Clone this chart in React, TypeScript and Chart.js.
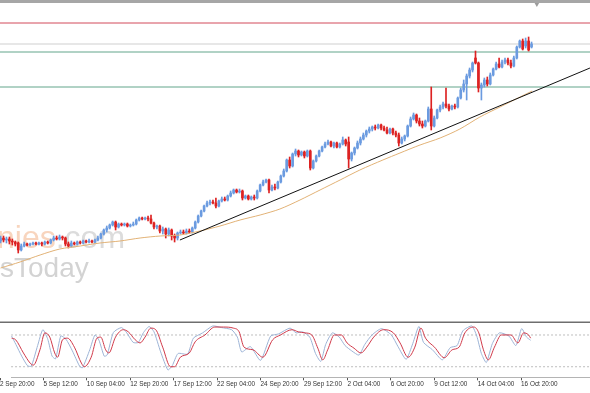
import { useEffect, useRef } from "react";
import { Chart, registerables } from "chart.js";

Chart.register(...registerables);

// ---- Candles (price units) ----
const OPEN = [
  1079,1082,1080,1081,1079,1078,1077,1070,1074,1076,
  1075,1076,1077,1076,1077,1076,1078,1077,1080,1082,
  1081,1083,1082,1076,1074,1077,1076,1078,1077,1079,
  1078,1079,1078,1080,1082,1086,1090,1092,1095,1098,
  1093,1096,1095,1096,1094,1095,1096,1100,1102,1101,
  1102,1101,1097,1093,1094,1089,1091,1086,1090,1084,
  1082,1087,1088,1087,1089,1088,1092,1098,1104,1109,
  1114,1117,1118,1117,1114,1119,1121,1120,1124,1127,
  1130,1128,1129,1122,1124,1121,1123,1122,1129,1135,
  1138,1140,1130,1133,1132,1138,1144,1149,1160,1154,
  1166,1169,1165,1168,1164,1169,1152,1159,1164,1169,
  1173,1176,1178,1174,1177,1173,1176,1180,1178,1161,
  1167,1172,1177,1181,1185,1189,1191,1193,1192,1195,
  1192,1190,1187,1191,1187,1185,1177,1181,1184,1194,
  1201,1205,1199,1196,1194,1199,1211,1194,1202,1210,
  1213,1216,1214,1211,1214,1213,1222,1230,1236,1244,
  1250,1262,1257,1232,1235,1240,1236,1245,1251,1256,
  1253,1258,1260,1257,1254,1262,1273,1279,1274,1279,1273,
];
const CLOSE = [
  1082,1080,1081,1079,1078,1076,1070,1074,1076,1075,
  1076,1077,1076,1077,1076,1078,1077,1080,1082,1081,
  1083,1082,1076,1074,1077,1076,1078,1077,1079,1078,
  1079,1078,1080,1082,1086,1090,1092,1095,1098,1093,
  1096,1095,1096,1094,1095,1096,1100,1102,1101,1102,
  1101,1097,1093,1094,1089,1091,1086,1090,1084,1082,
  1087,1088,1087,1089,1088,1092,1098,1104,1109,1114,
  1117,1118,1117,1114,1119,1121,1120,1124,1127,1130,
  1128,1129,1122,1124,1121,1123,1122,1129,1135,1138,
  1140,1130,1133,1132,1138,1144,1149,1160,1154,1166,
  1169,1165,1168,1164,1169,1152,1159,1164,1169,1173,
  1176,1178,1174,1177,1173,1176,1180,1176,1161,1167,
  1172,1177,1181,1185,1189,1191,1193,1192,1195,1192,
  1190,1187,1191,1187,1185,1177,1181,1184,1194,1201,
  1205,1199,1196,1194,1199,1211,1194,1202,1210,1213,
  1216,1214,1211,1214,1213,1222,1230,1236,1244,1250,
  1257,1257,1232,1235,1240,1236,1245,1251,1256,1253,
  1258,1260,1257,1254,1262,1273,1279,1271,1279,1270,1276,
];
const HIGH = [
  1084,1084,1083,1083,1081,1079,1078,1076,1078,1077,
  1077,1078,1078,1078,1078,1079,1079,1081,1084,1084,
  1085,1084,1083,1078,1079,1078,1079,1079,1080,1080,
  1081,1080,1081,1084,1087,1091,1094,1096,1099,1099,
  1097,1097,1097,1097,1096,1098,1101,1103,1103,1103,
  1104,1105,1098,1095,1095,1093,1092,1092,1091,1086,
  1088,1090,1090,1091,1091,1093,1099,1105,1110,1115,
  1119,1120,1120,1122,1120,1123,1123,1125,1129,1131,
  1131,1131,1130,1125,1125,1124,1125,1130,1136,1140,
  1141,1141,1135,1136,1139,1145,1151,1161,1163,1167,
  1171,1170,1169,1169,1170,1170,1160,1165,1170,1174,
  1178,1180,1179,1178,1178,1177,1183,1181,1183,1168,
  1173,1179,1183,1187,1190,1193,1194,1195,1196,1196,
  1194,1193,1192,1192,1189,1187,1183,1185,1195,1203,
  1207,1206,1202,1199,1200,1213,1233,1204,1211,1215,
  1218,1232,1216,1215,1216,1223,1232,1240,1246,1252,
  1258,1269,1258,1237,1242,1243,1247,1252,1258,1262,
  1260,1262,1262,1260,1264,1274,1280,1281,1282,1283,1278,
];
const LOW = [
  1077,1078,1077,1076,1075,1074,1067,1069,1073,1074,
  1074,1075,1075,1075,1074,1075,1076,1076,1079,1080,
  1080,1080,1074,1072,1073,1075,1075,1076,1076,1077,
  1077,1077,1077,1079,1081,1085,1088,1091,1094,1090,
  1092,1094,1094,1093,1093,1094,1095,1099,1100,1100,
  1099,1096,1091,1091,1087,1086,1082,1084,1080,1078,
  1080,1086,1086,1086,1087,1087,1091,1097,1103,1108,
  1113,1115,1116,1112,1113,1118,1119,1119,1123,1126,
  1127,1127,1120,1121,1120,1120,1120,1121,1128,1134,
  1137,1127,1129,1130,1131,1137,1143,1148,1152,1153,
  1164,1163,1164,1162,1163,1150,1151,1158,1163,1168,
  1172,1175,1173,1172,1172,1172,1175,1174,1152,1159,
  1165,1171,1175,1180,1183,1187,1189,1190,1191,1190,
  1189,1186,1186,1185,1183,1174,1176,1179,1183,1193,
  1200,1197,1194,1192,1193,1198,1190,1193,1201,1208,
  1211,1212,1209,1210,1211,1212,1221,1228,1220,1242,
  1248,1256,1228,1220,1233,1234,1235,1244,1250,1252,
  1252,1256,1255,1252,1253,1261,1272,1270,1272,1269,1272,
];

// ---- Moving average (sampled along the bars) ----
const MA_IDX = [0, 6.6, 13.4, 20.1, 27, 33.7, 40.5, 47.3, 54.1, 60.8, 67.6, 74.4, 81.2, 88, 94.7, 101.5, 108.3, 115.1, 121.8, 129.6, 135.4, 142.2, 149, 155.7, 162.5, 169.3, 176.1, 180.2];
const MA_VAL = [1052, 1058, 1065, 1071, 1074, 1077, 1079, 1082, 1084, 1085, 1089, 1094, 1100, 1105, 1111, 1120, 1130, 1140, 1150, 1160, 1167, 1175, 1182, 1191, 1203, 1213, 1223, 1229];

// ---- Trend line ----
const TREND_IDX = [60.8, 199.8];
const TREND_VAL = [1080, 1252];

// ---- Horizontal levels ----
const LEVELS = [1297, 1276, 1268, 1233];
const LEVEL_COLORS = ["#d24a5a", "#cfcfcf", "#63a58b", "#63a58b"];

// ---- Stochastic ----
const D_IDX = [0,1.4,4.1,6.4,7.5,9.8,11.5,13.2,14.9,15.9,17.6,19.3,21.7,24.1,25.1,27.5,29.5,30.8,32.5,33.6,35.9,38.6,40.3,42.7,44.4,46.1,48.1,49.8,52.2,54.9,56.3,58.3,61.4,63.4,66.8,70.2,73.2,76.6,78.6,80.3,83.4,86.8,90.2,92.9,96.9,99,101.4,103.7,105.8,107.5,109.2,111.5,113.9,115.9,118.3,120.7,122.7,125.1,128.5,131.9,134.2,137,139.3,141.4,143,146.1,149.5,152.2,154.6,156.6,159.7,161.4,163,164.7,166.8,169.2,172.5,174.9,176.9,178.6,179.3];
const D_VAL = [74,71,46,27,23,52,84,76,46,38,71,74,57,27,20,38,74,76,52,46,76,90,86,71,65,76,93,90,57,20,20,38,46,67,80,95,95,93,86,57,52,38,71,80,90,86,84,80,55,33,52,80,80,65,55,46,57,76,90,84,65,38,57,93,74,57,37,52,57,84,95,84,52,33,57,80,80,65,84,80,74];
const K_IDX = [0,1.5,3.5,5.5,6.8,9,10.8,12.5,14,15.2,17,18.8,21,23.5,24.5,27,28.8,30.2,32,33,35.2,38,39.8,42,43.8,45.5,47.5,49.2,51.5,54,55.5,57.5,60.8,62.8,66,69.5,72.5,76,78,79.5,82.5,86,89.5,92.2,96.2,98.3,100.5,103,105,106.8,108.5,110.8,113.2,115.2,117.5,120,122,124.5,127.8,131.2,133.5,136.3,138.6,140.7,142.3,145.4,148.8,151.5,153.9,155.9,159,160.7,162.3,164,166.1,168.5,171.8,174.2,176.2,177.9,179.3];
const K_VAL = [78,62,40,22,21,60,90,72,40,35,78,72,50,21,18,52,80,70,40,42,85,94,84,66,66,84,96,86,48,14,22,45,44,74,84,97,94,90,76,48,58,32,78,82,93,84,86,76,45,30,62,84,76,60,50,42,62,80,92,80,58,34,64,96,66,52,33,56,60,88,97,78,45,28,64,84,78,60,92,76,70];
const STOCH_LEVELS = [80, 20];

// ---- Time axis ----
const TICK_IDX = [-4, 11, 26, 41, 56, 71, 86, 101, 116, 131, 146, 161, 176];
const TICK_LABELS = ["2 Sep 20:00", "5 Sep 12:00", "10 Sep 04:00", "12 Sep 20:00", "17 Sep 12:00", "22 Sep 04:00", "24 Sep 20:00", "29 Sep 12:00", "2 Oct 04:00", "6 Oct 20:00", "9 Oct 12:00", "14 Oct 04:00", "16 Oct 20:00"];

const X_MIN = -0.1864;
const X_MAX = X_MIN + 200;
const Y_MIN = 1000;
const Y_MAX = 1320;
const MARKER = { x: 181.8, y: 1316 };

const UP = "#6b9be0";
const DOWN = "#dd2222";

export default function App() {
  const mainRef = useRef<HTMLCanvasElement | null>(null);
  const stochRef = useRef<HTMLCanvasElement | null>(null);

  useEffect(() => {
    const colors = OPEN.map((o, i) => (CLOSE[i] >= o ? UP : DOWN));
    const bodies = OPEN.map((o, i) => ({ x: i, y: [o, CLOSE[i]] }));
    const wicks = OPEN.map((_, i) => ({ x: i, y: [LOW[i], HIGH[i]] }));

    const watermark = {
      id: "watermark",
      beforeDatasetsDraw(chart: any) {
        const ctx = chart.ctx;
        ctx.save();
        ctx.textBaseline = "alphabetic";
        ctx.font = '32px "Liberation Sans"';
        ctx.fillStyle = "#f8d5be";
        ctx.fillText("nies", -3, 248);
        const w = ctx.measureText("nies").width;
        ctx.fillStyle = "#dcdcdc";
        ctx.fillText(".com", -3 + w, 248);
        ctx.font = '28px "Liberation Sans"';
        ctx.fillStyle = "#d3d3d3";
        ctx.fillText("sToday", 0, 277);
        ctx.restore();
      },
      afterDraw(chart: any) {
        const ctx = chart.ctx;
        ctx.save();
        ctx.fillStyle = "#a6a6a6";
        ctx.fillRect(0, 0, chart.width, 3);
        ctx.restore();
      },
    };

    const levelSets = LEVELS.map((v, k) => ({
      type: "line" as const,
      data: [{ x: X_MIN, y: v }, { x: X_MAX, y: v }],
      borderColor: LEVEL_COLORS[k],
      borderWidth: 1,
      pointRadius: 0,
      order: 10,
    }));

    const main = new Chart(mainRef.current!, {
      type: "bar",
      data: {
        datasets: [
          {
            type: "line",
            data: TREND_IDX.map((x, i) => ({ x, y: TREND_VAL[i] })),
            borderColor: "#111111",
            borderWidth: 1,
            pointRadius: 0,
            order: 0,
          },
          {
            type: "line",
            data: MA_IDX.map((x, i) => ({ x, y: MA_VAL[i] })),
            borderColor: "#e2b276",
            borderWidth: 1,
            pointRadius: 0,
            tension: 0.3,
            order: 0,
          },
          {
            type: "bar",
            data: bodies as any,
            backgroundColor: colors,
            borderWidth: 0,
            barThickness: 2,
            grouped: false,
            order: 1,
          },
          {
            type: "bar",
            data: wicks as any,
            backgroundColor: colors,
            borderWidth: 0,
            barThickness: 1,
            grouped: false,
            order: 2,
          },
          ...levelSets,
          {
            type: "line",
            data: [MARKER],
            showLine: false,
            pointStyle: "triangle",
            rotation: 180,
            pointRadius: 3,
            pointBackgroundColor: "#9c9c9c",
            pointBorderColor: "#9c9c9c",
            borderWidth: 0,
            order: 0,
          },
        ] as any,
      },
      options: {
        animation: false,
        responsive: false,
        devicePixelRatio: 1,
        layout: { padding: 0, autoPadding: false },
        plugins: { legend: { display: false }, tooltip: { enabled: false } },
        scales: {
          x: { type: "linear", display: false, min: X_MIN, max: X_MAX, offset: false },
          y: { type: "linear", display: false, min: Y_MIN, max: Y_MAX },
        },
      },
      plugins: [watermark],
    });

    const panelBorder = {
      id: "panelBorder",
      afterDraw(chart: any) {
        const ctx = chart.ctx;
        ctx.save();
        ctx.fillStyle = "#6e6e6e";
        ctx.fillRect(0, 1.5, chart.width, 1.5);
        ctx.restore();
      },
    };

    const stoch = new Chart(stochRef.current!, {
      type: "line",
      data: {
        datasets: [
          {
            data: D_IDX.map((x, i) => ({ x, y: D_VAL[i] })),
            borderColor: "#d03a4a",
            borderWidth: 1,
            pointRadius: 0,
            cubicInterpolationMode: "monotone",
            order: 0,
          },
          {
            data: K_IDX.map((x, i) => ({ x, y: K_VAL[i] })),
            borderColor: "#9db4d6",
            borderWidth: 1,
            pointRadius: 0,
            tension: 0.2,
            order: 1,
          },
          ...STOCH_LEVELS.map((v) => ({
            data: [{ x: X_MIN, y: v }, { x: X_MAX, y: v }],
            borderColor: "#bdbdbd",
            borderWidth: 1,
            borderDash: [2, 2],
            pointRadius: 0,
            order: 5,
          })),
        ] as any,
      },
      options: {
        animation: false,
        responsive: false,
        devicePixelRatio: 1,
        layout: { padding: { top: 4.4, bottom: 5, left: 0, right: 0 }, autoPadding: false },
        plugins: { legend: { display: false }, tooltip: { enabled: false } },
        scales: {
          x: {
            type: "linear",
            min: X_MIN,
            max: X_MAX,
            bounds: "data",
            afterBuildTicks: (scale: any) => {
              scale.ticks = TICK_IDX.map((v) => ({ value: v }));
            },
            ticks: {
              autoSkip: false,
              maxRotation: 0,
              minRotation: 0,
              align: "start",
              padding: 0,
              color: "#333333",
              font: { family: "Liberation Sans", size: 6.4 },
              callback: (_v: any, i: number) => TICK_LABELS[i],
            },
            grid: { drawOnChartArea: false, drawTicks: true, tickLength: 3, color: "#555555" },
            border: { display: true, color: "#b4b4b4" },
          },
          y: { type: "linear", display: false, min: 0, max: 100 },
        },
      } as any,
      plugins: [panelBorder],
    });

    return () => {
      main.destroy();
      stoch.destroy();
    };
  }, []);

  return (
    <div style={{ position: "fixed", left: 0, top: 0, width: 590, height: 393, background: "#ffffff", overflow: "hidden" }}>
      <canvas ref={mainRef} width={590} height={320} style={{ position: "absolute", left: 0, top: 0, width: 590, height: 320 }} />
      <canvas ref={stochRef} width={590} height={73} style={{ position: "absolute", left: 0, top: 320, width: 590, height: 73 }} />
    </div>
  );
}
